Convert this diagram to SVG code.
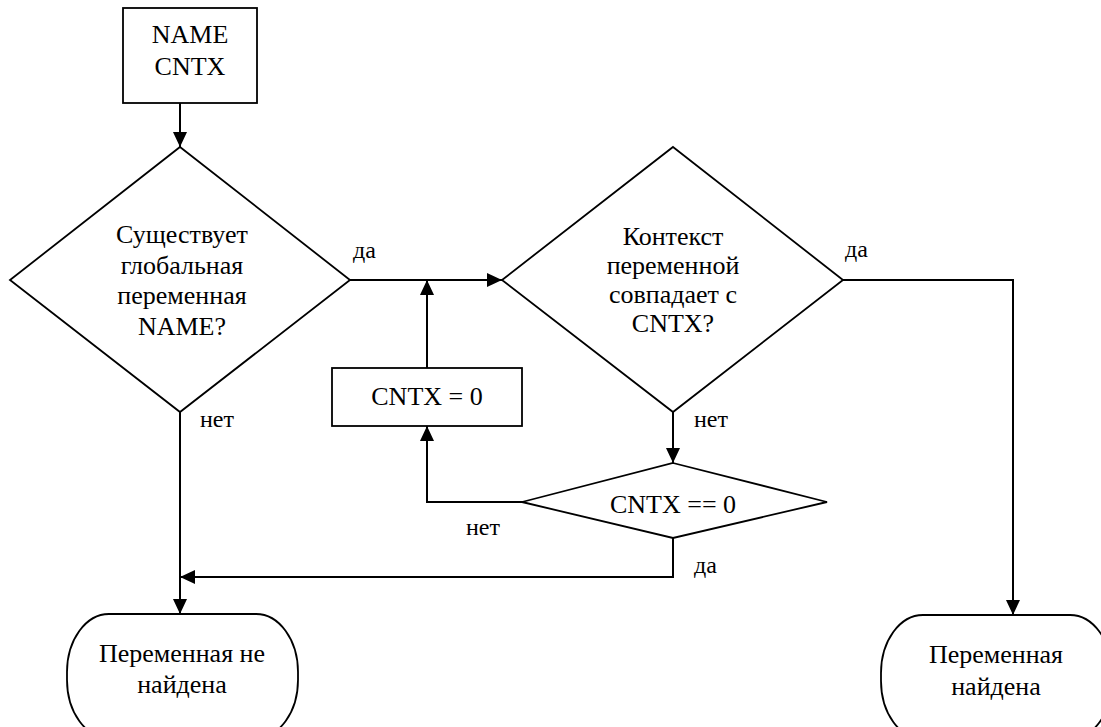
<svg xmlns="http://www.w3.org/2000/svg" width="1101" height="727" viewBox="0 0 1101 727">
  <style>
    .shape { fill: #ffffff; stroke: #000000; stroke-width: 1.8; }
    .conn { fill: none; stroke: #000000; stroke-width: 2; }
    .txt { font-family: "Liberation Serif", "Times New Roman", serif; font-size: 26px; fill: #000000; text-anchor: middle; }
    .lbl { font-family: "Liberation Serif", "Times New Roman", serif; font-size: 24px; fill: #000000; }
  </style>
  <defs>
    <marker id="arrow" markerUnits="userSpaceOnUse" markerWidth="16" markerHeight="14" viewBox="0 0 16 14" refX="15" refY="7" orient="auto">
      <path d="M0,0 L15,7 L0,14 Z" fill="#000000"/>
    </marker>
  </defs>
  <rect width="1101" height="727" fill="#ffffff"/>

  <!-- connectors -->
  <g id="connectors">
    <path class="conn" d="M180,103 V147" marker-end="url(#arrow)"/>
    <path class="conn" d="M350,280 H502" marker-end="url(#arrow)"/>
    <path class="conn" d="M427,368 V280" marker-end="url(#arrow)"/>
    <path class="conn" d="M522,502 H427 V426" marker-end="url(#arrow)"/>
    <path class="conn" d="M673,412 V463" marker-end="url(#arrow)"/>
    <path class="conn" d="M673,538 V577 H180" marker-end="url(#arrow)"/>
    <path class="conn" d="M180,412 V614" marker-end="url(#arrow)"/>
    <path class="conn" d="M843,280 H1013 V615" marker-end="url(#arrow)"/>
    <text class="lbl" x="353" y="258">да</text>
    <text class="lbl" x="200" y="427">нет</text>
    <text class="lbl" x="845" y="257">да</text>
    <text class="lbl" x="694" y="427">нет</text>
    <text class="lbl" x="466" y="535">нет</text>
    <text class="lbl" x="694" y="573">да</text>
  </g>

  <!-- input data -->
  <g id="start">
    <rect class="shape" x="123" y="8" width="134" height="95"/>
    <text class="txt" x="190" y="43">NAME</text>
    <text class="txt" x="190" y="75">CNTX</text>
  </g>

  <!-- global variable check -->
  <g id="check-global">
    <polygon class="shape" points="180,147 350,280 180,412 10,280"/>
    <text class="txt" x="182" y="243">Существует</text>
    <text class="txt" x="182" y="274">глобальная</text>
    <text class="txt" x="182" y="304">переменная</text>
    <text class="txt" x="182" y="335">NAME?</text>
  </g>

  <!-- context check -->
  <g id="check-context">
    <polygon class="shape" points="673,147 843,280 673,412 502,280"/>
    <text class="txt" x="673" y="245">Контекст</text>
    <text class="txt" x="673" y="274">переменной</text>
    <text class="txt" x="673" y="303">совпадает с</text>
    <text class="txt" x="673" y="332">CNTX?</text>
  </g>

  <!-- reset context -->
  <g id="reset-context">
    <rect class="shape" x="332" y="368" width="190" height="58"/>
    <text class="txt" x="427" y="405">CNTX = 0</text>
  </g>

  <!-- zero context check -->
  <g id="check-zero">
    <polygon class="shape" points="673,463 827,502 673,538 522,502"/>
    <text class="txt" x="673" y="513">CNTX == 0</text>
  </g>

  <!-- terminals -->
  <g id="not-found">
    <rect class="shape" x="67" y="614" width="231" height="124" rx="42" ry="58"/>
    <text class="txt" x="182" y="662">Переменная не</text>
    <text class="txt" x="182" y="693">найдена</text>
  </g>
  <g id="found">
    <rect class="shape" x="881" y="615" width="231" height="124" rx="42" ry="58"/>
    <text class="txt" x="996" y="663">Переменная</text>
    <text class="txt" x="996" y="695">найдена</text>
  </g>
</svg>
